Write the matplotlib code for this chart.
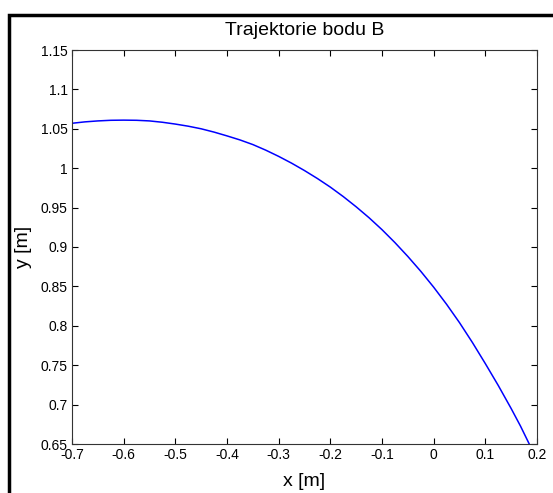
import numpy as np
import matplotlib
matplotlib.use("Agg")
import matplotlib.pyplot as plt
from matplotlib.patches import Rectangle

plt.rcParams['font.family'] = ['Liberation Sans', 'DejaVu Sans']

# trajektorie bodu B
x_b = [-0.700, -0.675, -0.650, -0.625, -0.600, -0.575, -0.550, -0.525, -0.500,
       -0.475, -0.450, -0.425, -0.400, -0.375, -0.350, -0.325, -0.300, -0.275,
       -0.250, -0.225, -0.200, -0.175, -0.150, -0.125, -0.100, -0.075, -0.050,
       -0.025, 0.000, 0.025, 0.050, 0.075, 0.100, 0.125, 0.150, 0.168, 0.185]
y_b = [1.0570, 1.0588, 1.0600, 1.0608, 1.0610, 1.0608, 1.0600, 1.0583, 1.0560,
       1.0533, 1.0500, 1.0458, 1.0410, 1.0359, 1.0300, 1.0229, 1.0150, 1.0064,
       0.9970, 0.9869, 0.9760, 0.9640, 0.9510, 0.9371, 0.9220, 0.9056, 0.8880,
       0.8692, 0.8490, 0.8273, 0.8040, 0.7788, 0.7520, 0.7243, 0.6950, 0.6728,
       0.6500]

xticks = [-0.7, -0.6, -0.5, -0.4, -0.3, -0.2, -0.1, 0.0, 0.1, 0.2]
xlabels = ['-0.7', '-0.6', '-0.5', '-0.4', '-0.3', '-0.2', '-0.1', '0', '0.1', '0.2']
yticks = [0.65, 0.7, 0.75, 0.8, 0.85, 0.9, 0.95, 1.0, 1.05, 1.1, 1.15]
ylabels = ['0.65', '0.7', '0.75', '0.8', '0.85', '0.9', '0.95', '1', '1.05', '1.1', '1.15']

W, H = 553, 493
fig = plt.figure(figsize=(W / 100, H / 100), dpi=100)
fig.patch.set_facecolor('white')

# black frame of the figure window
fig.patches.append(Rectangle((9 / W, -0.1), 1.2, 1 - 15 / H + 0.1, transform=fig.transFigure,
                             fill=False, edgecolor='black', linewidth=2.5, clip_on=False))

ax = fig.add_axes([72 / W, 1 - 444 / H, (537 - 72) / W, (444 - 50) / H])
ax.plot(x_b, y_b, color='#0000ff', linewidth=1.1)

ax.set_xlim(-0.7, 0.2)
ax.set_ylim(0.65, 1.15)
ax.set_xticks(xticks)
ax.set_xticklabels(xlabels)
ax.set_yticks(yticks)
ax.set_yticklabels(ylabels)
ax.tick_params(direction='in', length=4.5, width=0.8, top=True, right=True,
               labelsize=10, colors='black', pad=3)
for s in ax.spines.values():
    s.set_linewidth(0.8)
    s.set_color('#333333')

ax.set_title('Trajektorie bodu B', fontsize=14, pad=11)
ax.set_xlabel('x [m]', fontsize=14, labelpad=8)
ax.set_ylabel('y [m]', fontsize=14, labelpad=6)

fig.savefig('out.png', dpi=100)
